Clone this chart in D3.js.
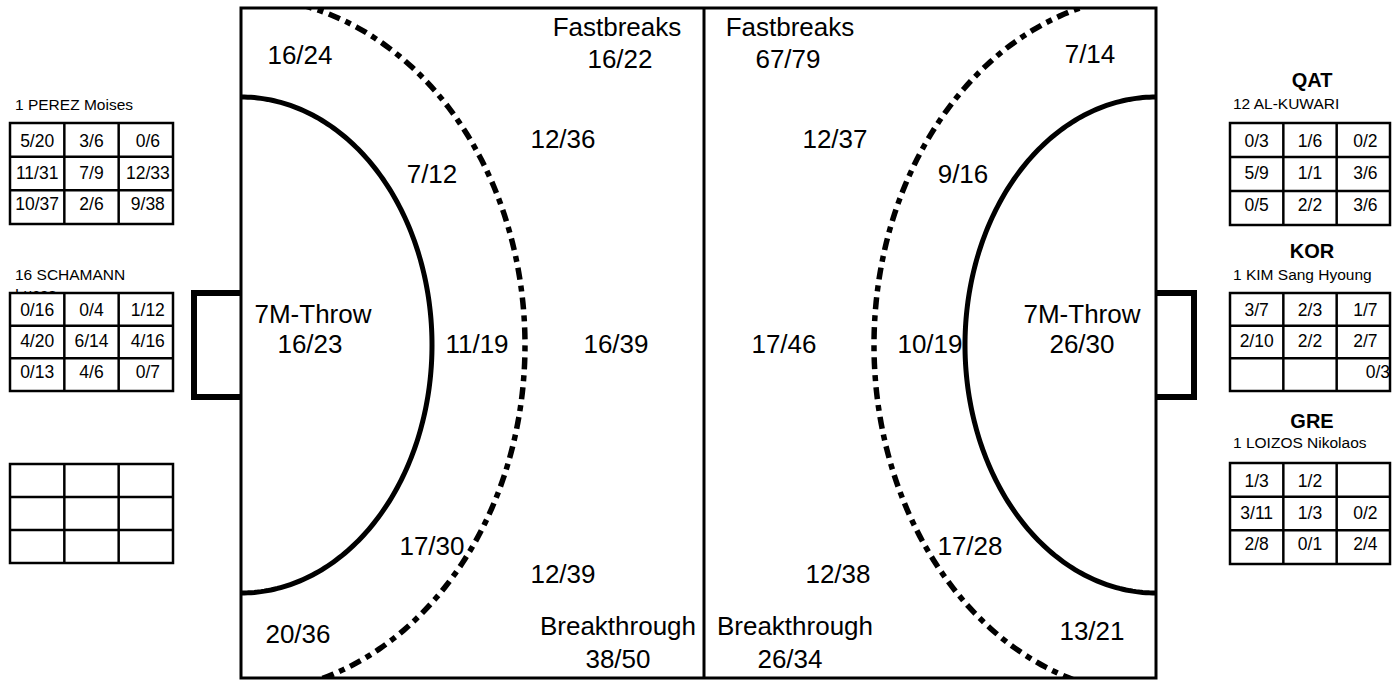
<!DOCTYPE html>
<html><head><meta charset="utf-8">
<script src="https://cdn.jsdelivr.net/npm/d3@7"></script>
<style>
body{margin:0;background:#fff}
svg{display:block}
text{font-family:"Liberation Sans",Arial,Helvetica,sans-serif;fill:#000}
</style>
</head><body>
<svg id="chart" width="1400" height="680"></svg>
<script>
// ---------------- DATA ----------------
const zoneTitles = ["Fastbreaks", "7M-Throw", "Breakthrough"];
// zone order: wingTop, fastbreak, backTop, nineTop, sevenM, nineMid, backMid, nineBot, backBot, wingBot, breakthrough
const leftZoneValues  = ["16/24","16/22","12/36","7/12","16/23","11/19","16/39","17/30","12/39","20/36","38/50"];
const rightZoneValues = ["7/14","67/79","12/37","9/16","26/30","10/19","17/46","17/28","12/38","13/21","26/34"];

const leftKeepers  = ["1 PEREZ Moises", "16 SCHAMANN", ""];
const leftKeeperSecondLine = ["", "Lucas", ""];
const rightTeams   = ["QAT", "KOR", "GRE"];
const rightKeepers = ["12 AL-KUWARI", "1 KIM Sang Hyoung", "1 LOIZOS Nikolaos"];

const perezValues    = [["5/20","3/6","0/6"],["11/31","7/9","12/33"],["10/37","2/6","9/38"]];
const schamannValues = [["0/16","0/4","1/12"],["4/20","6/14","4/16"],["0/13","4/6","0/7"]];
const emptyValues    = [["","",""],["","",""],["","",""]];
const kuwariValues   = [["0/3","1/6","0/2"],["5/9","1/1","3/6"],["0/5","2/2","3/6"]];
const kimValues      = [["3/7","2/3","1/7"],["2/10","2/2","2/7"],["","","0/3"]];
const loizosValues   = [["1/3","1/2",""],["3/11","1/3","0/2"],["2/8","0/1","2/4"]];

// ---------------- LAYOUT ----------------
const C = {x0:241, x1:1156, y0:8, y1:678, mid:704, cy:345};
const x = d3.scaleLinear().domain([0, 1]).range([C.x0, C.x1]);
const y = d3.scaleLinear().domain([0, 1]).range([C.y0, C.y1]);
const px = v => x((v - C.x0) / (C.x1 - C.x0));
const py = v => y((v - C.y0) / (C.y1 - C.y0));

// label anchor positions (centre x, baseline y) per zone
const leftZonePos  = [[300,64],[620,68],[563,148],[432,183],[310,353],[477,353],[616,353],[432,555],[563,583],[298,643],[618,668]];
const rightZonePos = [[1090,63],[788,68],[835,148],[963,183],[1082,353],[930,353],[784,353],[970,555],[838,583],[1092,640],[790,668]];
const leftTitlePos  = [[617,36],[313,323],[618,635]];
const rightTitlePos = [[790,36],[1082,323],[795,635]];

const svg = d3.select("#chart");

svg.append("defs").append("clipPath").attr("id","courtClip")
  .append("rect").attr("x", px(C.x0)).attr("y", py(C.y0))
  .attr("width", px(C.x1)-px(C.x0)).attr("height", py(C.y1)-py(C.y0));

// goals
const goalTop = 293, goalBot = 397;
svg.append("path")
  .attr("d", `M${px(C.x0)},${py(goalTop)} H${px(194)} V${py(goalBot)} H${px(C.x0)}`)
  .attr("fill","none").attr("stroke","#000").attr("stroke-width",6);
svg.append("path")
  .attr("d", `M${px(C.x1)},${py(goalTop)} H${px(1194)} V${py(goalBot)} H${px(C.x1)}`)
  .attr("fill","none").attr("stroke","#000").attr("stroke-width",6);

// court outline + centre line
svg.append("rect").attr("x", px(C.x0)).attr("y", py(C.y0))
  .attr("width", px(C.x1)-px(C.x0)).attr("height", py(C.y1)-py(C.y0))
  .attr("fill","none").attr("stroke","#000").attr("stroke-width",3);
svg.append("line").attr("x1", px(C.mid)).attr("x2", px(C.mid))
  .attr("y1", py(C.y0)).attr("y2", py(C.y1)).attr("stroke","#000").attr("stroke-width",3);

// goal-area lines (half ellipses)
const angles = d3.range(-90, 90.5, 1).map(a => a * Math.PI / 180);
const line = d3.line();
function halfEllipse(cx, dir, rx, ry) {
  return line(angles.map(t => [px(cx + dir * rx * Math.cos(t)), py(C.cy + ry * Math.sin(t))]));
}
const arcs = svg.append("g");
arcs.append("path").attr("d", halfEllipse(C.x0, 1, 191, 248))
  .attr("fill","none").attr("stroke","#000").attr("stroke-width",5);
arcs.append("path").attr("d", halfEllipse(C.x1, -1, 191, 248))
  .attr("fill","none").attr("stroke","#000").attr("stroke-width",5);
const dashed = svg.append("g").attr("clip-path","url(#courtClip)");
dashed.append("path").attr("d", halfEllipse(C.x0, 1, 284, 348))
  .attr("fill","none").attr("stroke","#000").attr("stroke-width",5.5).attr("stroke-dasharray","12,6,6,6");
dashed.append("path").attr("d", halfEllipse(C.x1, -1, 282, 350))
  .attr("fill","none").attr("stroke","#000").attr("stroke-width",5.5).attr("stroke-dasharray","12,6,6,6");

// zone labels
const labels = svg.append("g").attr("font-size", 26).attr("text-anchor","middle");
function zoneLabels(values, pos, tpos) {
  values.forEach((v, i) => {
    labels.append("text").attr("x", px(pos[i][0])).attr("y", py(pos[i][1])).text(v);
  });
  zoneTitles.forEach((t, i) => {
    labels.append("text").attr("x", px(tpos[i][0])).attr("y", py(tpos[i][1])).text(t);
  });
}
zoneLabels(leftZoneValues, leftZonePos, leftTitlePos);
zoneLabels(rightZoneValues, rightZonePos, rightTitlePos);

// goalkeeper tables
function drawTable(values, x0, x1, y0, y1) {
  const g = svg.append("g");
  const cols = d3.scaleBand().domain([0,1,2]).range([x0, x1]);
  const rows = d3.scaleBand().domain([0,1,2]).range([y0, y1]);
  g.append("rect").attr("x", x0).attr("y", y0).attr("width", x1-x0).attr("height", y1-y0)
    .attr("fill","#fff").attr("stroke","#000").attr("stroke-width",2.5);
  [1,2].forEach(c => g.append("line").attr("x1", cols(c)).attr("x2", cols(c))
    .attr("y1", y0).attr("y2", y1).attr("stroke","#000").attr("stroke-width",2.5));
  [1,2].forEach(r => g.append("line").attr("x1", x0).attr("x2", x1)
    .attr("y1", rows(r)).attr("y2", rows(r)).attr("stroke","#000").attr("stroke-width",2.5));
  values.forEach((row, r) => row.forEach((v, c) => {
    const onlyLast = c === 2 && row[0] === "" && row[1] === "";
    g.append("text")
      .attr("x", onlyLast ? cols(c) + cols.bandwidth() : cols(c) + cols.bandwidth()/2 + (c===2?2:0))
      .attr("y", rows(r) + rows.bandwidth()*0.71 - r*2)
      .attr("text-anchor", onlyLast ? "end" : "middle")
      .attr("font-size", 17.5).text(v);
  }));
}

// left side
const leftTables = [perezValues, schamannValues, emptyValues];
const leftTableY = [[123,224],[293,391],[464,563]];
const leftNameY = [110, 280, 0];
leftTables.forEach((vals, i) => {
  if (leftKeepers[i]) {
    svg.append("text").attr("x", 15).attr("y", leftNameY[i]).attr("font-size", 15.5).text(leftKeepers[i]);
  }
  if (leftKeeperSecondLine[i]) {
    svg.append("text").attr("x", 15).attr("y", leftNameY[i] + 19).attr("font-size", 15.5).text(leftKeeperSecondLine[i]);
  }
  drawTable(vals, 10, 173, leftTableY[i][0], leftTableY[i][1]);
});

// right side
const rightTables = [kuwariValues, kimValues, loizosValues];
const rightTableY = [[123,225],[293,391],[463,564]];
const rightTeamY = [87, 258, 428];
const rightNameY = [109, 280, 448];
rightTables.forEach((vals, i) => {
  svg.append("text").attr("x", 1312).attr("y", rightTeamY[i]).attr("text-anchor","middle")
    .attr("font-size", 20).attr("font-weight","bold").text(rightTeams[i]);
  svg.append("text").attr("x", 1233).attr("y", rightNameY[i]).attr("font-size", 15.5).text(rightKeepers[i]);
  drawTable(vals, 1230, 1390, rightTableY[i][0], rightTableY[i][1]);
});
</script>
</body></html>
